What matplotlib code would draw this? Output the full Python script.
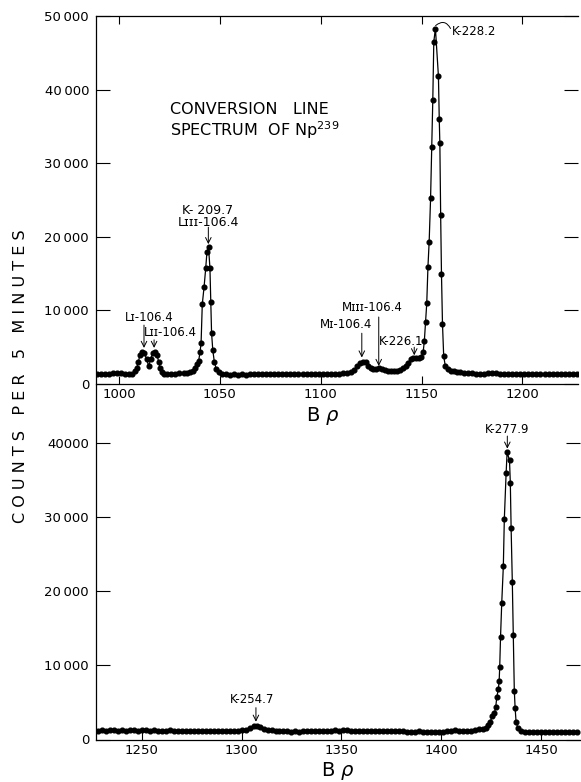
import numpy as np
import matplotlib
matplotlib.use("Agg")
import matplotlib.pyplot as plt

# upper spectrum (B rho 990 - 1227)
top_x = [989, 991, 993, 995, 997, 999, 1001, 1003, 1005, 1006.5, 1008,
         1008.8, 1009.6, 1010.4, 1011.5, 1012.6, 1013.7, 1014.7, 1015.7, 1016.7, 1017.8,
         1018.8, 1019.7, 1020.4, 1021.3, 1022.5, 1024, 1026, 1028, 1030, 1032,
         1033.5, 1035, 1036.5, 1037.8, 1038.8, 1039.5, 1040.2, 1040.7, 1041.3, 1042.2,
         1043.0, 1043.6, 1044.4, 1045.1, 1045.5, 1045.9, 1046.5, 1047.3, 1048.3, 1049.5,
         1051, 1053, 1055, 1057, 1059, 1061, 1063, 1065, 1067, 1069, 1071, 1073, 1075,
         1077, 1079, 1081, 1083, 1085, 1087, 1089, 1091, 1093, 1095, 1097, 1099, 1101,
         1103, 1105, 1107, 1109, 1111, 1113, 1115, 1116.5, 1118, 1119.5, 1121, 1122.3,
         1123.5, 1124.8, 1126, 1127.5, 1129, 1130.5, 1132, 1133.5, 1135, 1136.5, 1138,
         1139.5, 1141, 1142.3, 1143.5, 1144.7, 1146, 1147.3, 1148.6, 1149.8, 1150.8,
         1151.4, 1152.0, 1152.6, 1153.2, 1153.8, 1154.5, 1155.1, 1155.6, 1156.1, 1156.9,
         1158.4, 1158.8, 1159.1, 1159.5, 1159.9, 1160.4, 1161.0, 1161.8, 1163, 1164.5,
         1166, 1167.5, 1169, 1171, 1173, 1175, 1177, 1179, 1181, 1183, 1185, 1187, 1189,
         1191, 1193, 1195, 1197, 1199, 1201, 1203, 1205, 1207, 1209, 1211, 1213, 1215,
         1217, 1219, 1221, 1223, 1225, 1227]
top_y = [1300, 1320, 1300, 1350, 1450, 1500, 1450, 1330, 1350, 1400, 1700,
         2130, 3030, 3940, 4350, 4250, 3350, 2450, 3350, 4200, 4350,
         3940, 3030, 2130, 1600, 1400, 1350, 1380, 1400, 1450, 1450,
         1550, 1650, 1800, 2200, 2700, 3130, 4390, 5530, 10830, 13220,
         15720, 17890, 18600, 15720, 11100, 6970, 4620, 2950, 2000, 1600,
         1400, 1300, 1280, 1300, 1250, 1300, 1280, 1300, 1320, 1300, 1330, 1300, 1320,
         1350, 1400, 1420, 1400, 1380, 1400, 1350, 1330, 1300, 1320, 1300, 1320, 1350,
         1320, 1350, 1380, 1400, 1450, 1480, 1600, 1900, 2400, 2900, 3050, 2950,
         2500, 2150, 2000, 2100, 2150, 2000, 1850, 1750, 1700, 1700, 1800,
         1950, 2150, 2450, 2900, 3400, 3600, 3600, 3550, 3650, 4300,
         5800, 8470, 10960, 15940, 19330, 25230, 32240, 38590, 46510, 48300,
         41800, 36000, 32700, 22900, 15000, 8200, 3800, 2450, 2100, 1800,
         1700, 1650, 1600, 1550, 1500, 1450, 1420, 1400, 1400, 1450, 1550, 1500, 1420,
         1400, 1380, 1400, 1380, 1350, 1350, 1330, 1350, 1320, 1300, 1330, 1300, 1320,
         1300, 1300, 1330, 1300, 1320, 1300]

# lower spectrum (B rho 1228 - 1468)
bot_x = [1228, 1230, 1232, 1234, 1236, 1238, 1240, 1242, 1244, 1246, 1248, 1250,
         1252, 1254, 1256, 1258, 1260, 1262, 1264, 1266, 1268, 1270, 1272, 1274,
         1276, 1278, 1280, 1282, 1284, 1286, 1288, 1290, 1292, 1294, 1296, 1298,
         1300, 1302, 1304, 1306, 1307.5, 1309, 1311, 1313, 1315, 1317, 1319, 1321,
         1323, 1325, 1327, 1329, 1331, 1333, 1335, 1337, 1339, 1341, 1343, 1345,
         1347, 1349, 1351, 1353, 1355, 1357, 1359, 1361, 1363, 1365, 1367, 1369,
         1371, 1373, 1375, 1377, 1379, 1381, 1383, 1385, 1387, 1389, 1391, 1393,
         1395, 1397, 1399, 1401, 1403, 1405, 1407, 1409, 1411, 1413, 1415, 1417,
         1419, 1421, 1422.5, 1423.5, 1424.5, 1425.6, 1426.6, 1427.3, 1427.8, 1428.6,
         1429.0, 1429.3, 1429.7, 1430.3, 1431.1, 1431.6, 1432.5, 1433.0, 1434.2,
         1434.6, 1435.0, 1435.6, 1436.1, 1436.6, 1437.0, 1437.5, 1438.5, 1440, 1442,
         1444, 1446, 1448, 1450, 1452, 1454, 1456, 1458, 1460, 1462, 1464, 1466, 1468]
bot_y = [1200, 1250, 1200, 1220, 1250, 1200, 1230, 1200, 1250, 1220, 1200, 1250,
         1230, 1200, 1220, 1200, 1180, 1200, 1220, 1200, 1180, 1200, 1150, 1180,
         1150, 1170, 1150, 1180, 1150, 1170, 1150, 1180, 1150, 1200, 1180, 1200,
         1250, 1350, 1550, 1800, 1850, 1650, 1400, 1300, 1250, 1200, 1180, 1150,
         1100, 1080, 1100, 1080, 1100, 1120, 1100, 1120, 1150, 1200, 1180, 1200,
         1250, 1200, 1230, 1250, 1200, 1180, 1150, 1180, 1150, 1130, 1150, 1180,
         1150, 1170, 1180, 1150, 1120, 1100, 1080, 1050, 1080, 1100, 1050, 1030,
         1050, 1080, 1050, 1080, 1100, 1150, 1300, 1200, 1150, 1150, 1200, 1350,
         1400, 1450, 1600, 1900, 2430, 3110, 3570, 4380, 5680, 6810,
         7840, 9860, 13840, 18430, 23380, 29780, 36000, 38840, 37700,
         34700, 28600, 21300, 14100, 6600, 4300, 2300, 1500, 1200, 1050,
         1000, 980, 1000, 970, 1000, 980, 950, 1000, 970, 1000, 950, 1050, 970]

top_xticks = [1000, 1050, 1100, 1150, 1200]
bot_xticks = [1250, 1300, 1350, 1400, 1450]
top_yticks = [0, 10000, 20000, 30000, 40000, 50000]
top_ylabels = ["0", "10\u2009000", "20\u2009000", "30\u2009000", "40\u2009000", "50\u2009000"]
bot_yticks = [0, 10000, 20000, 30000, 40000]
bot_ylabels = ["0", "10\u2009000", "20\u2009000", "30\u2009000", "40000"]

W, H = 581, 782
fig = plt.figure(figsize=(W / 100, H / 100), dpi=100)

def frac(l, t, r, b):
    return [l / W, 1 - b / H, (r - l) / W, (b - t) / H]

ax1 = fig.add_axes(frac(96, 16, 578, 384))
ax2 = fig.add_axes(frac(96, 385, 580, 739.5))
ax2.patch.set_visible(False)

for ax, x, y in [(ax1, top_x, top_y), (ax2, bot_x, bot_y)]:
    ax.plot(x, y, '-', color='black', lw=0.9, marker='o', ms=3.4, mfc='black', mec='black')
    ax.tick_params(direction='in', labelsize=9.5, colors='black')
    ax.tick_params(axis='y', length=10, width=0.8, pad=5)
    ax.tick_params(axis='x', length=6, width=0.8, pad=3)
    ax.spines['right'].set_visible(False)
    for s in ax.spines.values():
        s.set_linewidth(0.9)

ax1.set_xlim(988.6, 1227.6)
ax1.set_ylim(0, 50000)
ax1.set_xticks(top_xticks)
ax1.set_xticklabels([str(t) for t in top_xticks])
ax1.set_yticks(top_yticks)
ax1.set_yticklabels(top_ylabels)
ax1.tick_params(top=True, right=True)

ax2.set_xlim(1227.1, 1469.5)
ax2.set_ylim(0, 47900)
ax2.set_xticks(bot_xticks)
ax2.set_xticklabels([str(t) for t in bot_xticks])
ax2.set_yticks(bot_yticks)
ax2.set_yticklabels(bot_ylabels)
ax2.tick_params(top=False, right=True)
ax2.spines['top'].set_visible(False)

# title inside the upper panel
ax1.text(1025.3, 37250, "CONVERSION   LINE", fontsize=11.5, ha='left', va='center')
ax1.text(1025.3, 34550, "SPECTRUM  OF Np$^{239}$", fontsize=11.5, ha='left', va='center')

arr = dict(arrowstyle='->', color='black', lw=0.7, shrinkA=0, shrinkB=0)
fs = 8.5

# line labels, upper panel
ax1.text(1014.9, 8970, "L\u026a-106.4", fontsize=fs, ha='center', va='center')
ax1.annotate("", xy=(1012.4, 4900), xytext=(1012.4, 8000), arrowprops=arr)
ax1.text(1025.3, 6930, "L\u026a\u026a-106.4", fontsize=fs, ha='center', va='center')
ax1.annotate("", xy=(1017.4, 4900), xytext=(1017.4, 6000), arrowprops=arr)
ax1.text(1044.1, 23640, "K- 209.7", fontsize=9, ha='center', va='center')
ax1.text(1044.6, 22010, "L\u026a\u026a\u026a-106.4", fontsize=9, ha='center', va='center')
ax1.annotate("", xy=(1044.3, 19000), xytext=(1044.3, 21300), arrowprops=arr)
ax1.text(1112.6, 8020, "M\u026a-106.4", fontsize=fs, ha='center', va='center')
ax1.annotate("", xy=(1120.4, 3600), xytext=(1120.4, 6900), arrowprops=arr)
ax1.text(1125.5, 10460, "M\u026a\u026a\u026a-106.4", fontsize=fs, ha='center', va='center')
ax1.annotate("", xy=(1128.8, 2450), xytext=(1128.8, 9100), arrowprops=arr)
ax1.text(1139.8, 5710, "K-226.1", fontsize=fs, ha='center', va='center')
ax1.annotate("", xy=(1146.4, 3900), xytext=(1146.4, 5000), arrowprops=arr)
ax1.text(1165.1, 47960, "K-228.2", fontsize=fs, ha='left', va='center')
ax1.annotate("", xy=(1157.0, 48700), xytext=(1164.4, 48300),
             arrowprops=dict(arrowstyle='-', color='black', lw=0.7,
                             connectionstyle='arc3,rad=0.6', shrinkA=0, shrinkB=0))

# line labels, lower panel
ax2.text(1433.0, 41850, "K-277.9", fontsize=fs, ha='center', va='center')
ax2.annotate("", xy=(1433.1, 39300), xytext=(1433.1, 41000), arrowprops=arr)
ax2.text(1305.1, 5360, "K-254.7", fontsize=fs, ha='center', va='center')
ax2.annotate("", xy=(1307.2, 2400), xytext=(1307.2, 4300), arrowprops=arr)

# axis titles
fig.text(323 / W, 1 - 416 / H, "B $\\rho$", fontsize=14, ha='center', va='center')
fig.text(338 / W, 1 - 771 / H, "B $\\rho$", fontsize=14, ha='center', va='center')
fig.text(21 / W, 1 - 376 / H, "C O U N T S   P E R   5   M I N U T E S",
         fontsize=11.5, rotation=90, ha='center', va='center')

fig.savefig("out.png", dpi=100)
